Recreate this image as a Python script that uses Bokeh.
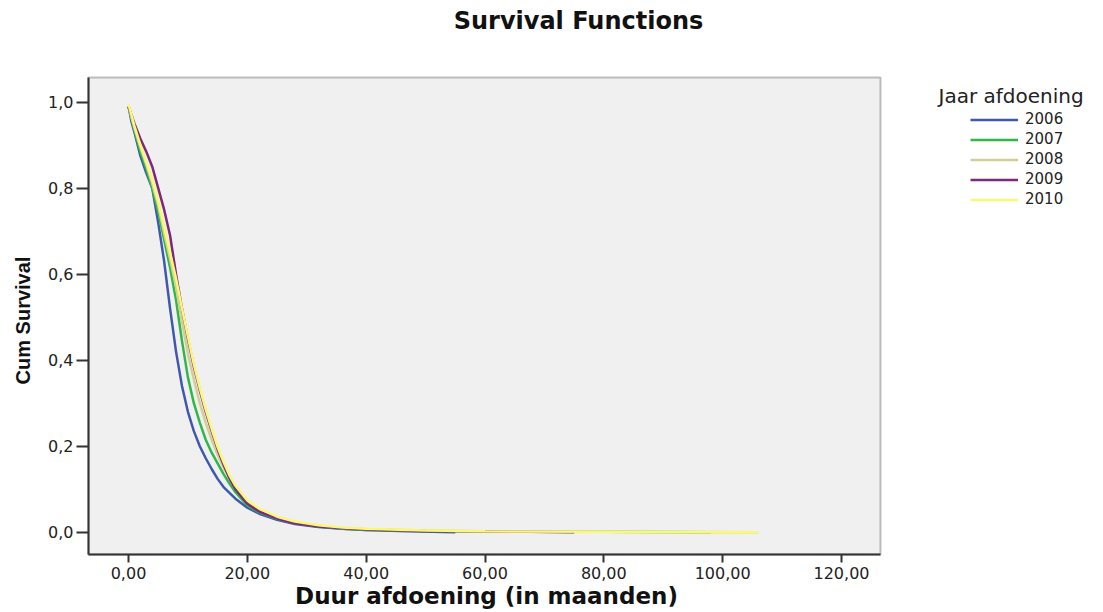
import math
from bokeh.plotting import figure
from bokeh.models import (Range1d, FixedTicker, CustomJSTickFormatter, Legend, LegendItem,
                          Label, BoxAnnotation)
from bokeh.embed import file_html
from bokeh.resources import INLINE

# ---------------- data ----------------
years = ["2006", "2007", "2008", "2009", "2010"]
colors = ["#3E58AC", "#2EB848", "#D3CE97", "#7C287D", "#FBF873"]

t_2006 = [0, 0.5, 1, 2, 3, 4, 5, 6, 7, 8, 9, 10, 11, 12, 13, 14, 15, 16, 18, 20, 22, 25, 28, 32, 36, 40, 47, 55]
s_2006 = [0.99, 0.955, 0.93, 0.875, 0.835, 0.80, 0.72, 0.63, 0.52, 0.42, 0.34, 0.28, 0.235, 0.20, 0.172, 0.147,
          0.124, 0.105, 0.078, 0.057, 0.043, 0.029, 0.019, 0.012, 0.008, 0.005, 0.002, 0.0]

t_2007 = [0, 1, 2, 3, 4, 5, 6, 7, 8, 9, 10, 11, 12, 13, 14, 15, 16, 17, 18, 20, 22, 25, 28, 32, 36, 40, 50, 60, 80, 98]
s_2007 = [0.99, 0.935, 0.885, 0.845, 0.80, 0.745, 0.68, 0.615, 0.54, 0.445, 0.36, 0.30, 0.255, 0.215, 0.185, 0.16,
          0.135, 0.113, 0.093, 0.062, 0.046, 0.031, 0.021, 0.013, 0.008, 0.005, 0.003, 0.002, 0.001, 0.0]

t_2008 = [0, 1, 2, 3, 4, 5, 6, 7, 8, 9, 10, 11, 12, 13, 14, 15, 16, 17, 18, 20, 22, 25, 28, 32, 36, 40, 50, 60, 80, 106]
s_2008 = [0.99, 0.94, 0.895, 0.855, 0.81, 0.76, 0.695, 0.635, 0.57, 0.49, 0.415, 0.355, 0.30, 0.255, 0.215, 0.18,
          0.15, 0.125, 0.103, 0.07, 0.052, 0.035, 0.024, 0.015, 0.01, 0.007, 0.004, 0.002, 0.001, 0.0]

t_2009 = [0, 1, 2, 3, 4, 5, 6, 7, 8, 9, 10, 11, 12, 13, 14, 15, 16, 17, 18, 20, 22, 25, 28, 32, 36, 40, 50, 60, 75]
s_2009 = [0.99, 0.95, 0.915, 0.885, 0.85, 0.80, 0.75, 0.69, 0.60, 0.52, 0.45, 0.385, 0.33, 0.28, 0.235, 0.193,
          0.157, 0.125, 0.10, 0.066, 0.048, 0.032, 0.021, 0.013, 0.009, 0.006, 0.003, 0.002, 0.0]

t_2010 = [0, 1, 2, 3, 4, 5, 6, 7, 8, 9, 10, 11, 12, 13, 14, 15, 16, 17, 18, 20, 22, 25, 28, 32, 36, 40, 50, 60, 80, 106]
s_2010 = [0.995, 0.945, 0.90, 0.86, 0.82, 0.77, 0.71, 0.65, 0.59, 0.52, 0.455, 0.39, 0.335, 0.285, 0.24, 0.198,
          0.163, 0.132, 0.108, 0.074, 0.055, 0.036, 0.025, 0.016, 0.011, 0.008, 0.004, 0.002, 0.001, 0.0]

times = [t_2006, t_2007, t_2008, t_2009, t_2010]
surv = [s_2006, s_2007, s_2008, s_2009, s_2010]

x_ticks = [0, 20, 40, 60, 80, 100, 120]
y_ticks = [0.0, 0.2, 0.4, 0.6, 0.8, 1.0]

title_text = "Survival Functions"
x_title = "Duur afdoening (in maanden)"
y_title = "Cum Survival"
legend_title = "Jaar afdoening"

# ---------------- layout (pixels) ----------------
W, H = 1100, 612
BOX_L, BOX_R, BOX_T, BOX_B = 88, 880, 77, 554   # grey plot panel
X0_PX, X120_PX = 128, 841     # screen x of x=0 and x=120
Y1_PX, Y0_PX = 101.7, 531.7   # screen y of y=1 and y=0

xs = (X120_PX - X0_PX) / 120.0
ys = (Y0_PX - Y1_PX) / 1.0


def dx(px):
    return (px - X0_PX) / xs


def dy(py):
    return (Y0_PX - py) / ys


XR = (dx(0), dx(W))
YR = (dy(H), dy(0))

p = figure(width=W, height=H, x_range=Range1d(*XR), y_range=Range1d(*YR),
           output_backend="svg", toolbar_location=None,
           min_border_left=0, min_border_right=0, min_border_top=0, min_border_bottom=0)

p.background_fill_color = "white"
p.border_fill_color = "white"
p.outline_line_color = None
p.grid.visible = False

# plot area box (grey panel with dark frame)
p.add_layout(BoxAnnotation(left=dx(BOX_L), right=dx(BOX_R), bottom=dy(BOX_B), top=dy(BOX_T),
                           fill_color="#f0f0f0", fill_alpha=1.0,
                           line_color="#333333", line_width=2, level="underlay"))

renderers = []
for yr, c, t, s in zip(years, colors, times, surv):
    r = p.line(t, s, line_color=c, line_width=2.5)
    renderers.append(r)

# axes, fixed at the panel edges
for ax in (p.xaxis[0], p.yaxis[0]):
    ax.axis_line_color = "#333333"
    ax.axis_line_width = 2
    ax.major_tick_line_color = "#333333"
    ax.major_tick_line_width = 2
    ax.minor_tick_line_color = None
    ax.major_tick_in = 0
    ax.major_label_text_font = "DejaVu Sans"
    ax.major_label_text_font_size = "16px"
    ax.major_label_text_color = "#222222"

p.xaxis.fixed_location = dy(BOX_B)
p.xaxis.bounds = (dx(BOX_L), dx(BOX_R))
p.xaxis.ticker = FixedTicker(ticks=x_ticks)
p.xaxis.formatter = CustomJSTickFormatter(code="return tick.toFixed(2).replace('.', ',');")
p.xaxis.major_tick_out = 8
p.xaxis.major_label_standoff = 4

p.yaxis.fixed_location = dx(BOX_L)
p.yaxis.bounds = (dy(BOX_B), dy(BOX_T))
p.yaxis.ticker = FixedTicker(ticks=y_ticks)
p.yaxis.formatter = CustomJSTickFormatter(code="return tick.toFixed(1).replace('.', ',');")
p.yaxis.major_tick_out = 12
p.yaxis.major_label_standoff = 3

# texts
p.add_layout(Label(x=dx(578), y=dy(20), text=title_text, text_font="DejaVu Sans",
                   text_font_style="bold", text_font_size="24px", text_color="#111111",
                   text_align="center", text_baseline="middle"))
p.add_layout(Label(x=dx(486), y=dy(595), text=x_title, text_font="DejaVu Sans",
                   text_font_style="bold", text_font_size="23px", text_color="#111111",
                   text_align="center", text_baseline="middle"))
p.add_layout(Label(x=dx(22), y=dy(320), text=y_title, text_font="Liberation Sans",
                   text_font_style="bold", text_font_size="20px", text_color="#111111",
                   text_align="center", text_baseline="middle", angle=math.pi / 2))
p.add_layout(Label(x=dx(938), y=dy(95), text=legend_title, text_font="DejaVu Sans",
                   text_font_size="20px", text_color="#222222",
                   text_align="left", text_baseline="middle"))

legend = Legend(items=[LegendItem(label=yr, renderers=[r]) for yr, r in zip(years, renderers)],
                location=(970, H - 208.5))
legend.background_fill_alpha = 0
legend.border_line_alpha = 0
legend.padding = 0
legend.margin = 0
legend.spacing = 1
legend.glyph_width = 48
legend.glyph_height = 19
legend.label_height = 19
legend.label_standoff = 7
legend.label_text_font = "DejaVu Sans"
legend.label_text_font_size = "15px"
legend.label_text_color = "#222222"
p.add_layout(legend)

open("out.html", "w").write(file_html(p, INLINE))
